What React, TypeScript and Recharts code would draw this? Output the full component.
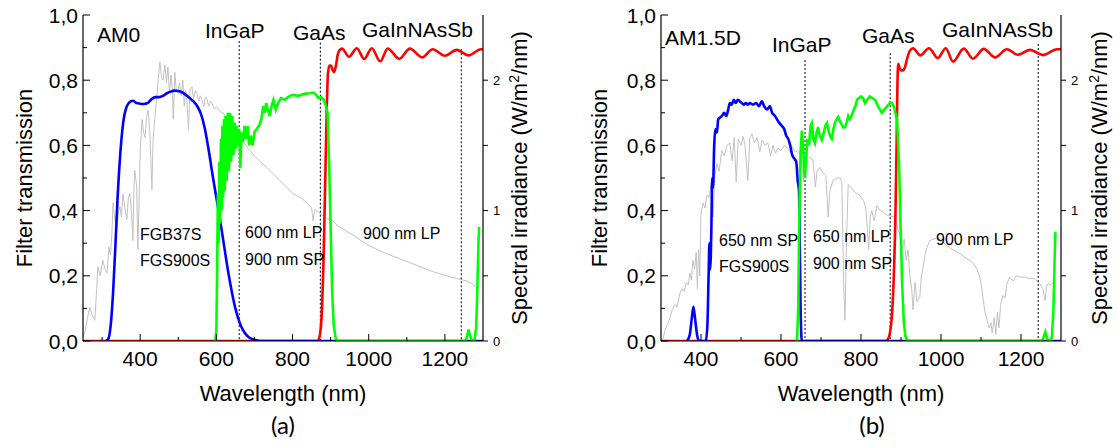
import React from "react";
import { ComposedChart, Line, XAxis, YAxis, ReferenceLine } from "recharts";

const FONT = '"Liberation Sans", Arial, Helvetica, sans-serif';

// AM0 spectral irradiance (W/m2/nm)
const am0: [number, number][] = [
  [250, 0.03], [256, 0.08], [262, 0.18], [268, 0.26], [274, 0.2], [281, 0.16], [286, 0.4], [289, 0.57],
  [295, 0.5], [302, 0.62], [308, 0.55], [313, 0.52], [318, 0.72], [322, 0.66], [326, 0.83], [329, 1.06],
  [334, 0.92], [339, 0.87], [343, 0.98], [347, 1.03], [351, 0.95], [355, 1.13], [360, 1.02], [365, 0.93],
  [369, 1.1], [373, 1.13], [377, 1.0], [381, 0.77], [384, 1.2], [386, 1.31], [391, 1.18], [394, 0.7],
  [397, 1.05], [400, 1.44], [405, 1.7], [409, 1.6], [413, 1.56], [417, 1.72], [421, 1.77], [425, 1.62],
  [428, 1.4], [431, 1.16], [434, 1.55], [439, 1.72], [443, 1.85], [447, 2.0], [452, 2.14], [456, 2.02],
  [460, 2.0], [465, 2.12], [469, 1.98], [473, 2.1], [477, 1.9], [481, 2.04], [484, 1.95], [487, 1.7],
  [491, 2.06], [495, 1.92], [499, 1.9], [503, 1.98], [508, 1.88], [512, 2.0], [516, 1.8], [519, 1.92],
  [523, 1.83], [527, 1.62], [531, 1.93], [536, 1.95], [540, 1.86], [545, 1.92], [549, 1.9], [554, 1.84],
  [558, 1.88], [562, 1.85], [567, 1.8], [571, 1.87], [575, 1.86], [580, 1.8], [585, 1.84], [589, 1.82],
  [595, 1.78], [602, 1.79], [610, 1.76], [618, 1.75], [628, 1.7], [641, 1.67], [650, 1.62], [662, 1.57],
  [675, 1.51], [688, 1.46], [700, 1.42], [714, 1.38], [733, 1.33], [750, 1.28], [767, 1.23], [785, 1.18],
  [801, 1.13], [820, 1.1], [838, 1.06], [850, 1.02], [854, 0.92], [858, 1.01], [872, 0.98], [890, 0.94],
  [906, 0.92], [920, 0.88], [943, 0.84], [970, 0.79], [995, 0.74], [1030, 0.69], [1064, 0.65], [1100, 0.61],
  [1135, 0.57], [1170, 0.53], [1205, 0.5], [1230, 0.48], [1258, 0.46], [1274, 0.435], [1279, 0.41],
];

// AM1.5D spectral irradiance (W/m2/nm)
const am15d: [number, number][] = [
  [300, 0.0], [305, 0.02], [310, 0.08], [315, 0.12], [322, 0.17], [328, 0.24], [335, 0.28], [340, 0.26],
  [347, 0.36], [352, 0.4], [358, 0.38], [363, 0.45], [368, 0.43], [372, 0.52], [376, 0.47], [380, 0.62],
  [384, 0.55], [388, 0.68], [391, 0.4], [394, 0.7], [397, 0.5], [400, 0.98], [405, 1.06], [410, 1.02],
  [415, 1.12], [420, 1.1], [425, 1.2], [430, 0.95], [435, 1.28], [440, 1.36], [445, 1.3], [452, 1.46],
  [458, 1.42], [465, 1.5], [472, 1.52], [478, 1.38], [483, 1.56], [488, 1.22], [493, 1.55], [500, 1.5],
  [505, 1.57], [510, 1.5], [517, 1.23], [522, 1.55], [527, 1.59], [533, 1.52], [540, 1.56], [547, 1.45],
  [553, 1.54], [560, 1.5], [567, 1.52], [574, 1.42], [580, 1.5], [586, 1.44], [592, 1.48], [600, 1.46],
  [608, 1.5], [615, 1.48], [622, 1.45], [628, 1.49], [635, 1.45], [642, 1.46], [650, 1.42], [656, 1.22],
  [660, 1.43], [668, 1.41], [675, 1.4], [680, 1.39], [686, 1.18], [690, 1.3], [697, 1.33], [705, 1.29],
  [712, 1.27], [718, 0.95], [722, 1.15], [730, 1.23], [740, 1.25], [747, 1.25], [752, 1.22], [757, 0.4],
  [760, 0.16], [764, 0.8], [768, 1.2], [777, 1.17], [785, 1.14], [795, 1.12], [806, 1.08], [812, 1.02],
  [816, 0.85], [819, 0.7], [823, 0.95], [827, 1.0], [833, 0.92], [840, 1.04], [848, 1.0], [855, 0.99],
  [862, 0.97], [872, 0.96], [885, 0.95], [893, 0.85], [898, 0.82], [903, 0.7], [908, 0.78], [913, 0.62],
  [918, 0.7], [922, 0.5], [927, 0.39], [930, 0.24], [935, 0.45], [940, 0.3], [947, 0.34], [951, 0.5],
  [955, 0.56], [960, 0.66], [965, 0.72], [972, 0.77], [980, 0.78], [990, 0.79], [1000, 0.77], [1015, 0.73],
  [1030, 0.7], [1047, 0.67], [1065, 0.63], [1080, 0.6], [1090, 0.55], [1097, 0.49], [1102, 0.4], [1106, 0.31],
  [1110, 0.22], [1115, 0.16], [1120, 0.1], [1125, 0.14], [1128, 0.06], [1133, 0.18], [1137, 0.05], [1141, 0.22],
  [1145, 0.1], [1149, 0.28], [1155, 0.35], [1160, 0.33], [1165, 0.44], [1172, 0.49], [1180, 0.46], [1188, 0.5],
  [1197, 0.49], [1210, 0.49], [1220, 0.48], [1230, 0.48], [1240, 0.46], [1247, 0.44], [1255, 0.4], [1260, 0.31],
  [1264, 0.42], [1268, 0.44], [1274, 0.43], [1280, 0.45],
];

// panel (a) filter transmissions
const blueA: [number, number][] = [
  [310, 0], [316, 0.005], [322, 0.04], [329, 0.15], [335, 0.29], [340, 0.42], [347, 0.56], [355, 0.665],
  [365, 0.72], [375, 0.735], [382, 0.737], [390, 0.73], [400, 0.728], [410, 0.727], [420, 0.73], [430, 0.742],
  [440, 0.748], [450, 0.748], [460, 0.752], [470, 0.76], [480, 0.765], [490, 0.768], [500, 0.767], [510, 0.763],
  [520, 0.755], [530, 0.745], [540, 0.735], [550, 0.72], [560, 0.695], [570, 0.65], [580, 0.585], [590, 0.51],
  [600, 0.44], [610, 0.37], [620, 0.295], [630, 0.22], [640, 0.155], [650, 0.1], [660, 0.06], [670, 0.033],
  [680, 0.017], [690, 0.008], [700, 0.004], [720, 0], [1300, 0],
];
const greenA: [number, number][] = [
  [597, 0], [600, 0.03], [602, 0.2], [604, 0.45], [606, 0.3], [608, 0.55], [610, 0.36], [612, 0.62],
  [614, 0.4], [616, 0.66], [618, 0.44], [620, 0.68], [622, 0.46], [624, 0.69], [627, 0.49], [630, 0.7],
  [633, 0.52], [636, 0.7], [639, 0.55], [642, 0.69], [645, 0.57], [648, 0.67], [651, 0.59], [654, 0.66],
  [657, 0.6], [660, 0.65], [663, 0.53], [666, 0.64], [670, 0.61], [674, 0.66], [678, 0.62], [682, 0.66],
  [686, 0.6], [690, 0.63], [695, 0.6], [700, 0.64], [706, 0.65], [712, 0.66], [718, 0.68], [723, 0.72],
  [727, 0.7], [731, 0.73], [735, 0.71], [740, 0.69], [745, 0.72], [750, 0.74], [756, 0.71], [762, 0.73],
  [770, 0.745], [780, 0.74], [790, 0.75], [800, 0.755], [815, 0.752], [830, 0.758], [845, 0.76], [855, 0.762],
  [862, 0.755], [868, 0.745], [875, 0.748], [882, 0.74], [888, 0.72], [892, 0.7], [896, 0.55], [900, 0.35],
  [904, 0.15], [908, 0.05], [913, 0.01], [918, 0], [1255, 0], [1258, 0.015], [1262, 0.035], [1266, 0.015],
  [1272, 0], [1278, 0.005], [1282, 0.04], [1285, 0.15], [1288, 0.3], [1290, 0.35],
];
const redA: [number, number][] = [
  [250, 0], [866, 0], [872, 0.02], [877, 0.09], [882, 0.28], [886, 0.5], [890, 0.72], [893, 0.82],
  [897, 0.845], [901, 0.845], [905, 0.832], [909, 0.825], [914, 0.845], [919, 0.88], [924, 0.893], [930, 0.897],
  [948, 0.872], [969, 0.898], [988, 0.865], [1008, 0.898], [1030, 0.858], [1050, 0.897], [1080, 0.866], [1108, 0.897],
  [1140, 0.87], [1168, 0.895], [1200, 0.875], [1231, 0.893], [1262, 0.876], [1295, 0.895], [1300, 0.894],
];

// panel (b) filter transmissions
const blueB: [number, number][] = [
  [365, 0], [372, 0.02], [377, 0.07], [381, 0.105], [385, 0.07], [390, 0.02], [395, 0], [412, 0],
  [416, 0.05], [419, 0.2], [421, 0.3], [423, 0.22], [426, 0.35], [428, 0.5], [430, 0.47], [433, 0.6],
  [436, 0.65], [440, 0.64], [443, 0.68], [447, 0.685], [452, 0.69], [458, 0.7], [463, 0.69], [468, 0.71],
  [472, 0.73], [477, 0.725], [482, 0.74], [487, 0.73], [492, 0.74], [497, 0.735], [502, 0.73], [507, 0.725],
  [512, 0.73], [517, 0.725], [522, 0.73], [530, 0.725], [538, 0.73], [545, 0.72], [552, 0.735], [558, 0.72],
  [565, 0.71], [572, 0.72], [578, 0.7], [585, 0.69], [590, 0.68], [595, 0.67], [602, 0.66], [608, 0.65],
  [613, 0.63], [618, 0.62], [623, 0.6], [628, 0.57], [633, 0.56], [638, 0.55], [642, 0.49], [645, 0.46],
  [647, 0.3], [649, 0.1], [652, 0], [1300, 0],
];
const greenB: [number, number][] = [
  [640, 0], [643, 0.1], [646, 0.4], [649, 0.58], [652, 0.645], [655, 0.6], [658, 0.52], [660, 0.5],
  [663, 0.56], [666, 0.62], [670, 0.6], [674, 0.66], [677, 0.668], [681, 0.62], [685, 0.607], [689, 0.64],
  [693, 0.656], [697, 0.63], [702, 0.617], [707, 0.64], [711, 0.66], [715, 0.668], [720, 0.64], [724, 0.625],
  [727, 0.62], [731, 0.65], [735, 0.67], [739, 0.68], [743, 0.687], [747, 0.675], [752, 0.663], [756, 0.655],
  [760, 0.656], [764, 0.67], [768, 0.69], [772, 0.68], [777, 0.693], [782, 0.71], [786, 0.72], [790, 0.74],
  [795, 0.745], [800, 0.75], [805, 0.745], [810, 0.73], [815, 0.74], [822, 0.75], [828, 0.745], [835, 0.74],
  [843, 0.72], [852, 0.7], [858, 0.71], [865, 0.72], [872, 0.73], [877, 0.73], [882, 0.72], [886, 0.7],
  [890, 0.68], [895, 0.55], [899, 0.35], [903, 0.17], [907, 0.06], [911, 0.015], [916, 0], [1252, 0],
  [1256, 0.01], [1261, 0.028], [1266, 0.005], [1272, 0], [1277, 0.01], [1281, 0.09], [1284, 0.25], [1286, 0.335],
];
const redB: [number, number][] = [
  [300, 0], [860, 0], [867, 0.005], [873, 0.03], [878, 0.09], [882, 0.2], [886, 0.38], [889, 0.6],
  [891, 0.78], [893, 0.85], [896, 0.84], [900, 0.83], [905, 0.83], [910, 0.84], [915, 0.865], [922, 0.89],
  [930, 0.898], [948, 0.876], [970, 0.898], [992, 0.868], [1012, 0.898], [1030, 0.857], [1057, 0.897], [1080, 0.866],
  [1107, 0.896], [1135, 0.87], [1165, 0.895], [1192, 0.878], [1222, 0.893], [1255, 0.877], [1290, 0.895], [1300, 0.895],
];

const transTicks = [0, 0.1, 0.2, 0.3, 0.4, 0.5, 0.6, 0.7, 0.8, 0.9, 1.0];
const irrTicks = [0, 0.5, 1, 1.5, 2];
const nmTicksA = [300, 400, 500, 600, 700, 800, 900, 1000, 1100, 1200];
const nmTicksB = [400, 500, 600, 700, 800, 900, 1000, 1100, 1200];
const gapNm = [660, 873, 1243];

const rows = (pts: [number, number][]) => pts.map(([nm, v]) => ({ nm, v }));

const LeftTick = (p: any) => {
  const v = p.payload.value as number;
  const major = Math.round(v * 10) % 2 === 0;
  return (
    <g>
      <line x1={p.x} x2={p.x + (major ? 7 : 4)} y1={p.y} y2={p.y} stroke="#000" />
      {major && (
        <text x={p.x - 5} y={p.y + 7.5} textAnchor="end" fontSize={21} fontFamily={FONT} fill="#000">
          {v.toFixed(1).replace(".", ",")}
        </text>
      )}
    </g>
  );
};

const RightTick = (p: any) => {
  const v = p.payload.value as number;
  return (
    <g>
      <line x1={p.x} x2={p.x + 5} y1={p.y} y2={p.y} stroke="#000" />
      {Number.isInteger(v) && (
        <text x={p.x + 10} y={p.y + 4.5} fontSize={13} fontFamily={FONT} fill="#000">
          {v}
        </text>
      )}
    </g>
  );
};

const BottomTick = (p: any) => {
  const v = p.payload.value as number;
  const major = v % 200 === 0;
  return (
    <g>
      <line x1={p.x} x2={p.x} y1={p.y} y2={p.y - (major ? 7 : 4)} stroke="#000" />
      {major && (
        <text x={p.x} y={p.y + 25} textAnchor="middle" fontSize={21} fontFamily={FONT} fill="#000">
          {v}
        </text>
      )}
    </g>
  );
};

const TopTick = (p: any) => {
  const major = (p.payload.value as number) % 200 === 0;
  return <line x1={p.x} x2={p.x} y1={p.y} y2={p.y + (major ? 7 : 4)} stroke="#000" />;
};

type PanelProps = {
  left: number;
  xDomain: [number, number];
  xTicks: number[];
  spectrum: [number, number][];
  blue: [number, number][];
  green: [number, number][];
  red: [number, number][];
  gapTop: number[];
  mLeft: number;
  mRight: number;
};

function Panel({ left, xDomain, xTicks, spectrum, blue, green, red, gapTop, mLeft, mRight }: PanelProps) {
  const axisLine = { stroke: "#000", strokeWidth: 1.2 };
  return (
    <div style={{ position: "absolute", left, top: 0 }}>
      <ComposedChart width={560} height={448} margin={{ top: 15, right: mRight, bottom: 77, left: mLeft }}>
        <XAxis xAxisId="b" type="number" dataKey="nm" domain={xDomain} allowDataOverflow ticks={xTicks}
          interval={0} tickSize={0} tickMargin={0} tickLine={false} tick={BottomTick} height={30} axisLine={axisLine} />
        <XAxis xAxisId="top" orientation="top" type="number" dataKey="nm" domain={xDomain} allowDataOverflow
          ticks={xTicks} interval={0} tickSize={0} tickMargin={0} tickLine={false} tick={TopTick} height={0} axisLine={axisLine} />
        <YAxis yAxisId="t" type="number" domain={[0, 1]} allowDataOverflow ticks={transTicks} interval={0}
          tickSize={0} tickMargin={0} tickLine={false} tick={LeftTick} width={60} axisLine={axisLine} />
        <YAxis yAxisId="irr" orientation="right" type="number" domain={[0, 2.5]} allowDataOverflow ticks={irrTicks}
          interval={0} tickSize={0} tickMargin={0} tickLine={false} tick={RightTick} width={40} axisLine={axisLine} />
        <Line xAxisId="b" yAxisId="irr" data={rows(spectrum)} dataKey="v" type="linear" stroke="#c2c2c2"
          strokeWidth={1} dot={false} isAnimationActive={false} />
        {gapNm.map((nm, i) => (
          <ReferenceLine key={nm} xAxisId="b" yAxisId="t" segment={[{ x: nm, y: gapTop[i] }, { x: nm, y: 0 }]}
            stroke="#000" strokeWidth={1} strokeDasharray="2 2" />
        ))}
        <Line xAxisId="b" yAxisId="t" data={rows(red)} dataKey="v" type="monotone" stroke="#ff0000"
          strokeWidth={2.6} dot={false} isAnimationActive={false} />
        <Line xAxisId="b" yAxisId="t" data={rows(blue)} dataKey="v" type="monotone" stroke="#0000ff"
          strokeWidth={2.6} dot={false} isAnimationActive={false} />
        <Line xAxisId="b" yAxisId="t" data={rows(green)} dataKey="v" type="linear" stroke="#00ff00"
          strokeWidth={2.6} dot={false} isAnimationActive={false} />
      </ComposedChart>
    </div>
  );
}

const T = (props: any) => <text fontFamily={FONT} fill="#000" {...props} />;

export default function App() {
  return (
    <div style={{ position: "absolute", left: 0, top: 0, width: 1120, height: 448, background: "#fff" }}>
      <Panel left={0} xDomain={[250, 1300]} xTicks={nmTicksA} spectrum={am0} blue={blueA} green={greenA}
        red={redA} gapTop={[0.92, 0.915, 0.895]} mLeft={23} mRight={37} />
      <Panel left={560} xDomain={[300, 1300]} xTicks={nmTicksB} spectrum={am15d} blue={blueB} green={greenB}
        red={redB} gapTop={[0.862, 0.883, 0.911]} mLeft={41} mRight={19} />
      <svg width={1120} height={448} style={{ position: "absolute", left: 0, top: 0, pointerEvents: "none" }}>
        {/* panel (a) */}
        <T x={97} y={42} fontSize={21}>AM0</T>
        <T x={205} y={38} fontSize={21}>InGaP</T>
        <T x={293} y={40} fontSize={21}>GaAs</T>
        <T x={362} y={37} fontSize={21}>GaInNAsSb</T>
        <T x={140} y={240} fontSize={16}>FGB37S</T>
        <T x={140} y={266} fontSize={16}>FGS900S</T>
        <T x={245} y={238} fontSize={16}>600 nm LP</T>
        <T x={245} y={265} fontSize={16}>900 nm SP</T>
        <T x={363} y={239} fontSize={16}>900 nm LP</T>
        <T x={283} y={401} fontSize={22} textAnchor="middle">Wavelength (nm)</T>
        <T x={283} y={434} fontSize={24} textAnchor="middle" fontFamily="Lato, sans-serif">(a)</T>
        <T transform="translate(32,178) rotate(-90)" fontSize={22} textAnchor="middle">Filter transmission</T>
        <T transform="translate(527,178) rotate(-90)" fontSize={22} textAnchor="middle">
          Spectral irradiance (W/m<tspan dy={-8} fontSize={14}>2</tspan><tspan dy={8}>/nm)</tspan>
        </T>
        {/* panel (b) */}
        <T x={665} y={45} fontSize={21}>AM1.5D</T>
        <T x={772} y={52} fontSize={21}>InGaP</T>
        <T x={862} y={43} fontSize={21}>GaAs</T>
        <T x={942} y={37} fontSize={21}>GaInNAsSb</T>
        <T x={719} y={246} fontSize={16}>650 nm SP</T>
        <T x={719} y={272} fontSize={16}>FGS900S</T>
        <T x={813} y={242} fontSize={16}>650 nm LP</T>
        <T x={813} y={269} fontSize={16}>900 nm SP</T>
        <T x={936} y={245} fontSize={16}>900 nm LP</T>
        <T x={861} y={401} fontSize={22} textAnchor="middle">Wavelength (nm)</T>
        <T x={872} y={434} fontSize={24} textAnchor="middle" fontFamily="Lato, sans-serif">(b)</T>
        <T transform="translate(607,178) rotate(-90)" fontSize={22} textAnchor="middle">Filter transmission</T>
        <T transform="translate(1107,178) rotate(-90)" fontSize={22} textAnchor="middle">
          Spectral irradiance (W/m<tspan dy={-8} fontSize={14}>2</tspan><tspan dy={8}>/nm)</tspan>
        </T>
      </svg>
    </div>
  );
}
